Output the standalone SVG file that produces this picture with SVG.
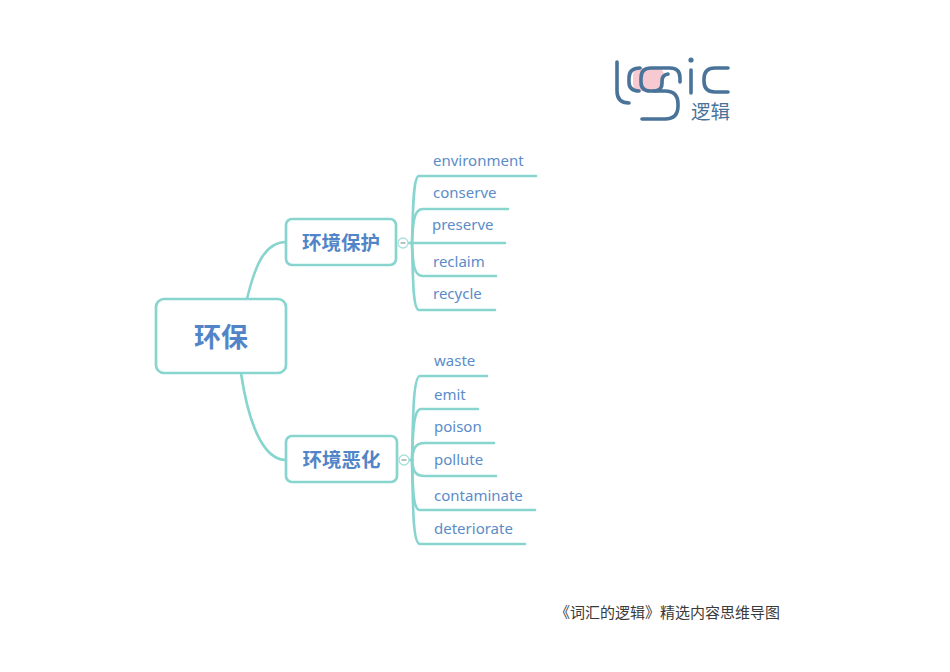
<svg xmlns="http://www.w3.org/2000/svg" width="950" height="672" viewBox="0 0 950 672">
<style>
.c{fill:none;stroke:#88d5cf;stroke-width:2.6;stroke-linecap:round}
.n{fill:#fff;stroke:#88d5cf;stroke-width:2.7}
.t{font-family:"Noto Sans CJK SC",sans-serif;font-weight:700;fill:#5285c8;text-anchor:middle}
.w{font-family:"Noto Sans","Noto Sans CJK SC",sans-serif;font-size:15px;fill:#5a8cc9}
.col{fill:#fff;stroke:#a9e0db;stroke-width:1.3}
.m{stroke:#8a9a9a;stroke-width:1.2}
.lg{fill:none;stroke:#4a7399;stroke-width:3.6;stroke-linecap:round}
</style>
<rect width="950" height="672" fill="#fff"/>
<g id="logo">
<rect x="633" y="68" width="31" height="23" rx="7" fill="#f7c9d0"/>
<path class="lg" d="M617 62V91Q617 103 629 103"/>
<path class="lg" d="M640 68Q629 68 629 78V82Q629 91 639 91"/>
<path class="lg" d="M668 74Q662 75 662 81V83Q662 91 654 91H650Q641 91 641 82V78Q641 68 651 68H670Q680 68 680 78V82"/>
<path class="lg" d="M654 91H665Q678 91 678 104V106Q678 119 665 119H642"/>
<circle cx="691" cy="60" r="2.600" fill="#4a7399"/>
<path class="lg" d="M691 70V93"/>
<path class="lg" d="M728 68H715Q704 68 704 79V81Q704 92 715 92H728"/>
<text x="691" y="119" font-family="'Noto Sans CJK SC',sans-serif" font-size="19.500" fill="#4a7399">逻辑</text>
</g>
<g id="connectors">
<path class="c" d="M247 299C255 265 265 242 286 242"/>
<path class="c" d="M241 373C248 420 262 460 286 460"/>
<path class="c" d="M408 243H413"/>
<path class="c" d="M412 243C413 210 413 176 419 176H536"/>
<path class="c" d="M412 243C413 225 413 209 423 209H508"/>
<path class="c" d="M412 243H505"/>
<path class="c" d="M412 243C413 262 413 276 423 276H496"/>
<path class="c" d="M412 243C413 280 413 310 419 310H495"/>
<path class="c" d="M409 460H413"/>
<path class="c" d="M412 460C413 420 413 376 420 376H487"/>
<path class="c" d="M412 460C413 435 413 409 421 409H478"/>
<path class="c" d="M412 460C413 450 414 443 425 443H494"/>
<path class="c" d="M412 460C413 470 414 476 425 476H496"/>
<path class="c" d="M412 460C413 490 413 510 420 510H535"/>
<path class="c" d="M412 460C413 510 413 544 420 544H525"/>
</g>
<g id="root"><rect class="n" x="156" y="299" width="130" height="74" rx="8"/><text class="t" x="221" y="347" font-size="27">环保</text></g>
<g id="node-protect"><rect class="n" x="286" y="219" width="110" height="46" rx="6"/><text class="t" x="341" y="250" font-size="19.500">环境保护</text></g>
<g id="node-worsen"><rect class="n" x="286" y="436" width="111" height="46" rx="6"/><text class="t" x="341.500" y="467" font-size="19.500">环境恶化</text></g>
<g id="collapse-1"><circle class="col" cx="403" cy="243" r="5"/><path class="m" d="M400.500 243H405.500"/></g>
<g id="collapse-2"><circle class="col" cx="404" cy="460" r="5"/><path class="m" d="M401.500 460H406.500"/></g>
<g id="w1"><text class="w" x="433" y="166">environment</text></g>
<g id="w2"><text class="w" x="433" y="198">conserve</text></g>
<g id="w3"><text class="w" x="432" y="230">preserve</text></g>
<g id="w4"><text class="w" x="433" y="267">reclaim</text></g>
<g id="w5"><text class="w" x="433" y="299">recycle</text></g>
<g id="w6"><text class="w" x="434" y="366">waste</text></g>
<g id="w7"><text class="w" x="434" y="400">emit</text></g>
<g id="w8"><text class="w" x="434" y="432">poison</text></g>
<g id="w9"><text class="w" x="434" y="465">pollute</text></g>
<g id="w10"><text class="w" x="434" y="500.500">contaminate</text></g>
<g id="w11"><text class="w" x="434" y="534">deteriorate</text></g>
<text x="555" y="618" font-family="'Noto Sans CJK SC',sans-serif" font-size="15" fill="#3a3a3a">《词汇的逻辑》精选内容思维导图</text>
</svg>
